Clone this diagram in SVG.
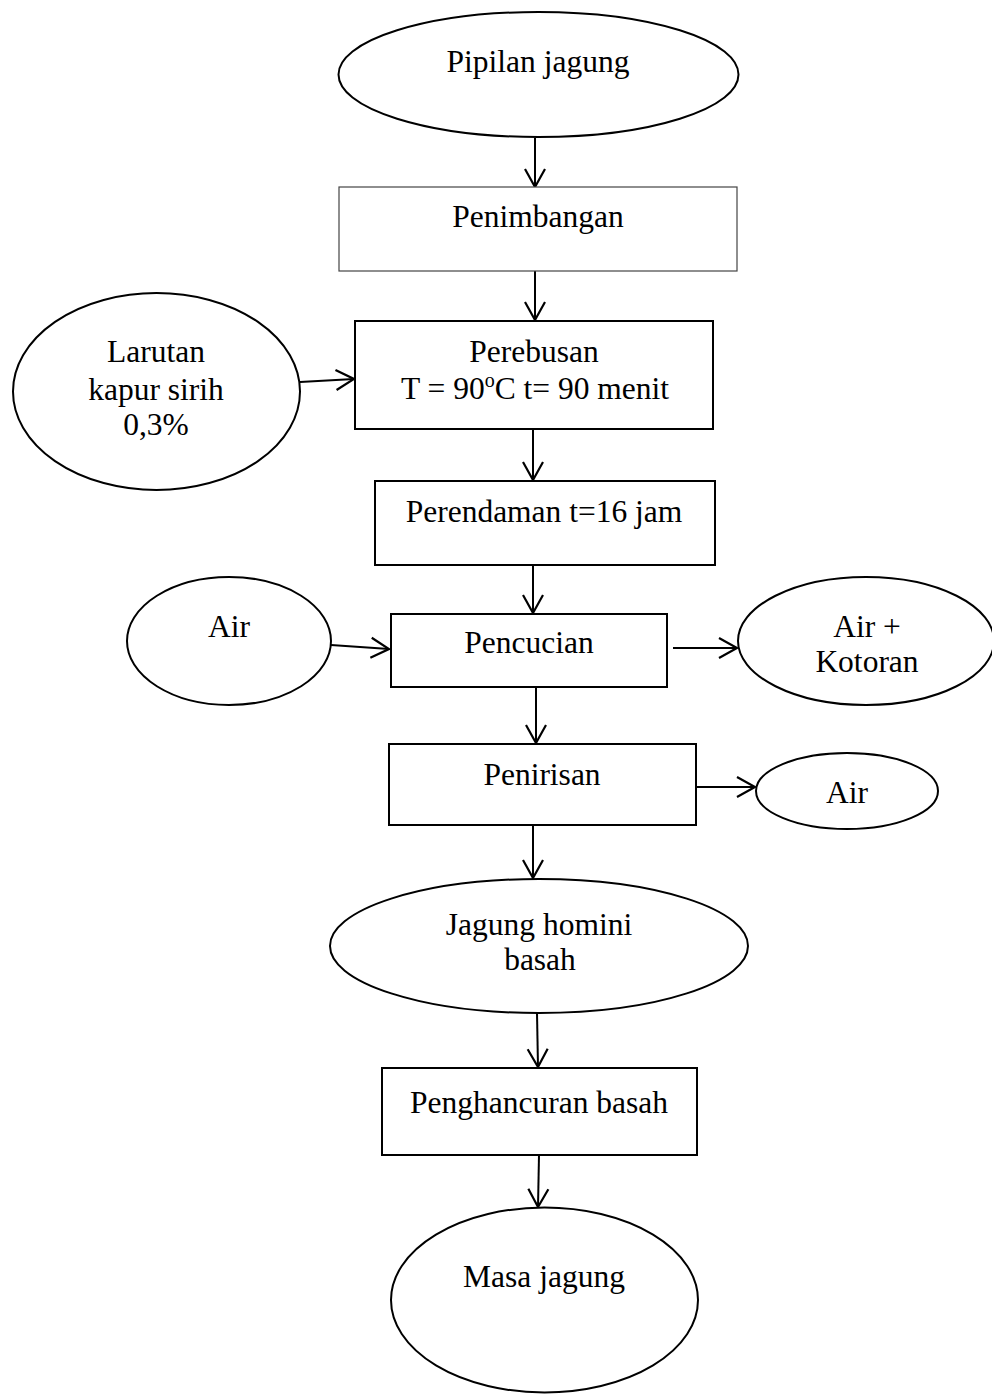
<svg xmlns="http://www.w3.org/2000/svg" width="992" height="1394" viewBox="0 0 992 1394">
<style>
  .bg { fill: #ffffff; }
  .shape { fill: #ffffff; stroke: #000000; stroke-width: 2; }
  .thin { fill: #ffffff; stroke: #444444; stroke-width: 1.2; }
  .lbl { font-family: "Liberation Serif", "Times New Roman", serif; font-size: 31.5px; fill: #000000; text-anchor: middle; }
  .sup { font-size: 20px; }
  .conn { fill: none; stroke: #000000; stroke-width: 2; marker-end: url(#arr); }
</style>
<defs>
  <marker id="arr" markerUnits="userSpaceOnUse" markerWidth="24" markerHeight="24" viewBox="-20 -12 22 24" refX="0" refY="0" orient="auto">
    <path d="M -18 -10 L 0 0 L -18 10" fill="none" stroke="#000000" stroke-width="2.2" stroke-linejoin="miter"/>
  </marker>
</defs>
<rect class="bg" x="0" y="0" width="992" height="1394"/>

<g id="connectors">
  <line class="conn" x1="535" y1="138" x2="535" y2="187"/>
  <line class="conn" x1="535" y1="271" x2="535" y2="320"/>
  <line class="conn" x1="300" y1="382" x2="354" y2="379"/>
  <line class="conn" x1="533" y1="429" x2="533" y2="480"/>
  <line class="conn" x1="533" y1="565" x2="533" y2="613"/>
  <line class="conn" x1="331" y1="645" x2="389" y2="649"/>
  <line class="conn" x1="673" y1="648" x2="737" y2="648"/>
  <line class="conn" x1="536" y1="687" x2="536" y2="743"/>
  <line class="conn" x1="696" y1="787" x2="755" y2="787"/>
  <line class="conn" x1="533" y1="825" x2="533" y2="878"/>
  <line class="conn" x1="537" y1="1013" x2="538" y2="1067"/>
  <line class="conn" x1="539" y1="1155" x2="538" y2="1207"/>
</g>

<g id="node-pipilan">
  <ellipse class="shape" cx="538.5" cy="74.5" rx="200" ry="62.5"/>
  <text class="lbl" x="538" y="72">Pipilan jagung</text>
</g>

<g id="node-penimbangan">
  <rect class="thin" x="339" y="187" width="398" height="84"/>
  <text class="lbl" x="538" y="227">Penimbangan</text>
</g>

<g id="node-larutan">
  <ellipse class="shape" cx="156.5" cy="391.5" rx="143.5" ry="98.5"/>
  <text class="lbl" x="156" y="362">Larutan</text>
  <text class="lbl" x="156" y="400">kapur sirih</text>
  <text class="lbl" x="156" y="435">0,3%</text>
</g>

<g id="node-perebusan">
  <rect class="shape" x="355" y="321" width="358" height="108"/>
  <text class="lbl" x="534" y="362">Perebusan</text>
  <text class="lbl" x="535" y="399">T = 90<tspan class="sup" dy="-12">o</tspan><tspan dy="12">C t= 90 menit</tspan></text>
</g>

<g id="node-perendaman">
  <rect class="shape" x="375" y="481" width="340" height="84"/>
  <text class="lbl" x="544" y="522">Perendaman t=16 jam</text>
</g>

<g id="node-air-in">
  <ellipse class="shape" cx="229" cy="641" rx="102" ry="64"/>
  <text class="lbl" x="229" y="637">Air</text>
</g>

<g id="node-pencucian">
  <rect class="shape" x="391" y="614" width="276" height="73"/>
  <text class="lbl" x="529" y="653">Pencucian</text>
</g>

<g id="node-air-kotoran">
  <ellipse class="shape" cx="866" cy="641" rx="128" ry="64"/>
  <text class="lbl" x="867" y="637">Air +</text>
  <text class="lbl" x="867" y="672">Kotoran</text>
</g>

<g id="node-penirisan">
  <rect class="shape" x="389" y="744" width="307" height="81"/>
  <text class="lbl" x="542" y="785">Penirisan</text>
</g>

<g id="node-air-out">
  <ellipse class="shape" cx="847" cy="791" rx="91" ry="38"/>
  <text class="lbl" x="847" y="803">Air</text>
</g>

<g id="node-homini">
  <ellipse class="shape" cx="539" cy="946" rx="209" ry="67"/>
  <text class="lbl" x="539" y="935">Jagung homini</text>
  <text class="lbl" x="540" y="970">basah</text>
</g>

<g id="node-penghancuran">
  <rect class="shape" x="382" y="1068" width="315" height="87"/>
  <text class="lbl" x="539" y="1113">Penghancuran basah</text>
</g>

<g id="node-masa">
  <ellipse class="shape" cx="544.5" cy="1300" rx="153.5" ry="92.5"/>
  <text class="lbl" x="544" y="1287">Masa jagung</text>
</g>
</svg>
